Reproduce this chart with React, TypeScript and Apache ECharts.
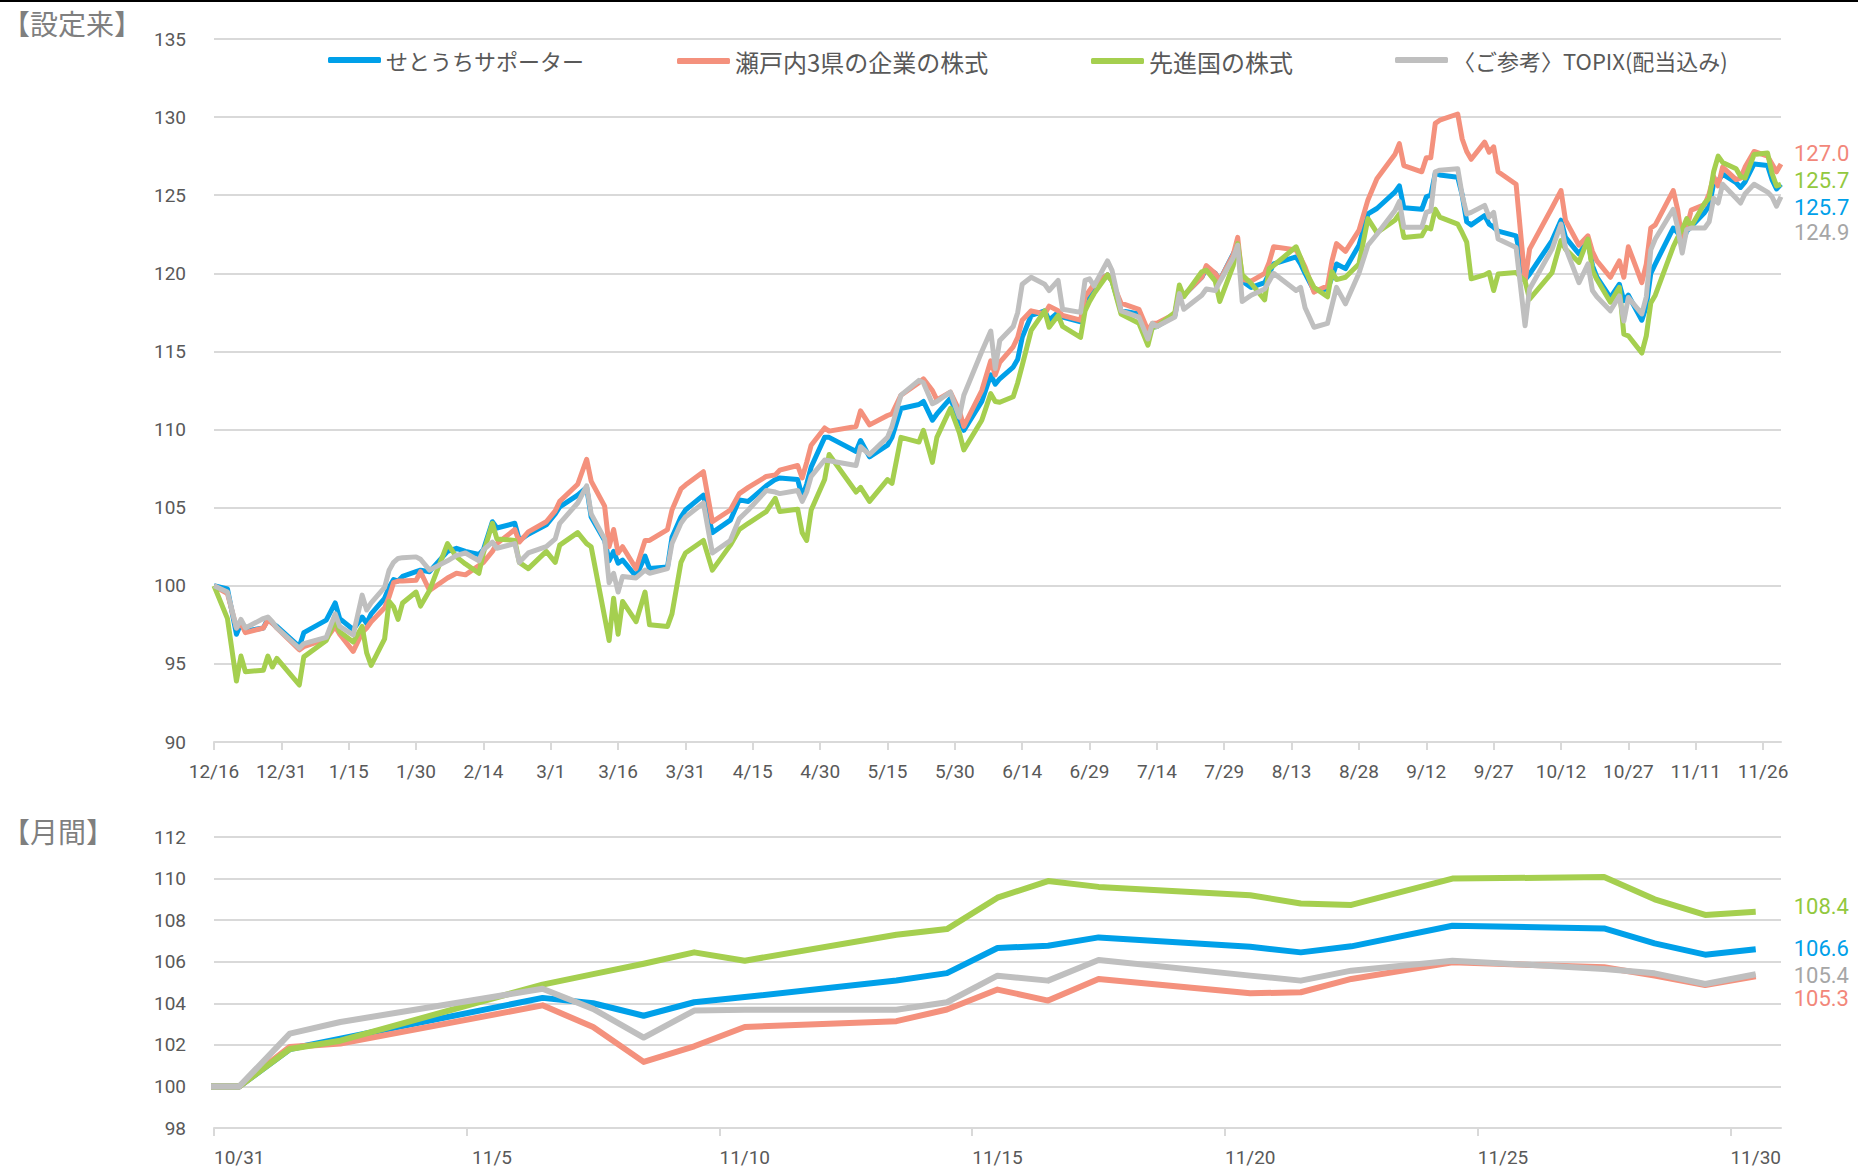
import React, { useEffect, useRef } from 'react';
import * as echarts from 'echarts';

const SERIES_NAMES = ['せとうちサポーター', '瀬戸内3県の企業の株式', '先進国の株式', '〈ご参考〉TOPIX(配当込み)'];
const LINE_COLORS = ['#00A0E9', '#F4917D', '#A5CF4F', '#BFBFBF'];
const LABEL_COLORS = ['#00A0E9', '#F2877A', '#92C83E', '#A6A6A6'];

const SINCE_BASE = '2022-12-16';
const MONTH_BASE = '2023-10-31';

const sinceTickLabels = ['12/16', '12/31', '1/15', '1/30', '2/14', '3/1', '3/16', '3/31', '4/15', '4/30', '5/15', '5/30', '6/14', '6/29', '7/14', '7/29', '8/13', '8/28', '9/12', '9/27', '10/12', '10/27', '11/11', '11/26'];
const monthTickLabels = ['10/31', '11/5', '11/10', '11/15', '11/20', '11/25', '11/30'];

const sinceDates = [
  '2022-12-16', '2022-12-19', '2022-12-21', '2022-12-22', '2022-12-23', '2022-12-27', '2022-12-28', '2022-12-29', '2022-12-30',
  '2023-01-04', '2023-01-05', '2023-01-10', '2023-01-12', '2023-01-13', '2023-01-16', '2023-01-18', '2023-01-19', '2023-01-20',
  '2023-01-23', '2023-01-24', '2023-01-25', '2023-01-26', '2023-01-27', '2023-01-30', '2023-01-31', '2023-02-02', '2023-02-06',
  '2023-02-08', '2023-02-10', '2023-02-13', '2023-02-14', '2023-02-16', '2023-02-17', '2023-02-21', '2023-02-22', '2023-02-24',
  '2023-02-28', '2023-03-02', '2023-03-03', '2023-03-07', '2023-03-09', '2023-03-10', '2023-03-13', '2023-03-14', '2023-03-15',
  '2023-03-16', '2023-03-17', '2023-03-20', '2023-03-22', '2023-03-23', '2023-03-27', '2023-03-28', '2023-03-30', '2023-03-31',
  '2023-04-04', '2023-04-06', '2023-04-10', '2023-04-12', '2023-04-14', '2023-04-18', '2023-04-20', '2023-04-21', '2023-04-25',
  '2023-04-26', '2023-04-27', '2023-04-28', '2023-05-01', '2023-05-02', '2023-05-08', '2023-05-09', '2023-05-11', '2023-05-15',
  '2023-05-16', '2023-05-18', '2023-05-22', '2023-05-23', '2023-05-25', '2023-05-26', '2023-05-29', '2023-05-31', '2023-06-01',
  '2023-06-05', '2023-06-07', '2023-06-08', '2023-06-09', '2023-06-12', '2023-06-13', '2023-06-14', '2023-06-16', '2023-06-19',
  '2023-06-20', '2023-06-22', '2023-06-23', '2023-06-27', '2023-06-28', '2023-06-29', '2023-06-30', '2023-07-03', '2023-07-04',
  '2023-07-06', '2023-07-10', '2023-07-12', '2023-07-13', '2023-07-14', '2023-07-18', '2023-07-19', '2023-07-20', '2023-07-24',
  '2023-07-25', '2023-07-27', '2023-07-28', '2023-07-31', '2023-08-01', '2023-08-02', '2023-08-04', '2023-08-07', '2023-08-08',
  '2023-08-09', '2023-08-14', '2023-08-15', '2023-08-16', '2023-08-18', '2023-08-21', '2023-08-22', '2023-08-23', '2023-08-25',
  '2023-08-28', '2023-08-30', '2023-09-01', '2023-09-05', '2023-09-06', '2023-09-07', '2023-09-11', '2023-09-12', '2023-09-13',
  '2023-09-14', '2023-09-15', '2023-09-19', '2023-09-20', '2023-09-21', '2023-09-22', '2023-09-25', '2023-09-26', '2023-09-27',
  '2023-09-28', '2023-10-02', '2023-10-04', '2023-10-05', '2023-10-10', '2023-10-12', '2023-10-13', '2023-10-16', '2023-10-18',
  '2023-10-19', '2023-10-20', '2023-10-23', '2023-10-25', '2023-10-26', '2023-10-27', '2023-10-30', '2023-10-31', '2023-11-01',
  '2023-11-02', '2023-11-06', '2023-11-07', '2023-11-08', '2023-11-09', '2023-11-10', '2023-11-13', '2023-11-14', '2023-11-15',
  '2023-11-16', '2023-11-17', '2023-11-20', '2023-11-21', '2023-11-22', '2023-11-24', '2023-11-27', '2023-11-28', '2023-11-29',
  '2023-11-30',
];

const sinceFund = [
  100, 99.8, 96.9, 97.6, 97.1, 97.3, 97.9, 97.6, 97.4,
  96.1, 97.0, 97.8, 98.9, 97.9, 97.2, 98.0, 97.6, 98.2,
  99.2, 99.9, 100.4, 100.3, 100.6, 100.9, 101.0, 100.9, 102.2,
  102.4, 102.2, 102.0, 102.3, 104.1, 103.7, 104.0, 102.9, 103.3,
  103.9, 104.6, 105.05, 105.8, 106.3, 104.4, 102.9, 101.6, 102.2,
  101.45, 101.65, 100.6, 101.9, 101.1, 101.2, 103.1, 104.4, 104.85,
  105.8, 103.4, 104.2, 105.5, 105.4, 106.4, 106.8, 106.9, 106.8,
  105.7, 106.5, 107.6, 109.5, 109.5, 108.6, 109.3, 108.25, 109.0,
  109.5, 111.35, 111.6, 111.8, 110.6, 111.0, 112.0, 110.6, 109.95,
  111.8, 113.5, 112.9, 113.25, 114.0, 114.5, 115.9, 117.3, 117.6,
  117.0, 117.5, 117.2, 116.9, 118.3, 118.6, 119.3, 119.9, 119.5,
  117.6, 117.4, 116.0, 116.55, 116.6, 117.3, 118.9, 118.6, 119.75,
  120.3, 120.0, 119.55, 121.25, 121.8, 119.5, 119.1, 119.4, 120.0,
  120.6, 121.05, 120.6, 120.0, 118.9, 119.0, 119.75, 120.6, 120.3,
  121.8, 123.8, 124.15, 125.2, 125.6, 124.2, 124.1, 124.9, 125.0,
  126.4, 126.3, 126.15, 125.0, 123.3, 123.1, 123.7, 123.15, 122.95,
  122.7, 122.4, 119.6, 119.95, 122.1, 123.4, 122.3, 121.25, 122.1,
  120.5, 119.75, 118.45, 119.3, 118.25, 118.6, 117.0, 117.9, 120.0,
  120.6, 122.9, 122.6, 121.9, 122.7, 123.0, 123.9, 124.3, 125.75,
  125.9, 126.35, 125.8, 125.5, 125.85, 127.0, 126.9, 126.0, 125.4,
  125.7,
];

const sinceSetouchi = [
  100, 99.5, 97.3, 97.6, 97.0, 97.3, 97.8, 97.6, 97.3,
  95.9, 96.1, 96.6, 97.4, 96.9, 95.8, 97.0, 97.3, 97.7,
  98.6, 99.3, 100.2, 100.3, 100.3, 100.35, 100.9, 99.7, 100.5,
  100.8, 100.7, 101.3, 101.5, 102.2, 102.7, 103.6, 102.8, 103.45,
  104.1, 104.8, 105.4, 106.5, 108.1, 106.7, 105.1, 102.5, 103.6,
  102.1, 102.5, 101.1, 102.9, 102.9, 103.6, 104.85, 106.2, 106.45,
  107.3, 104.1, 104.85, 105.9, 106.3, 107.0, 107.1, 107.4, 107.7,
  106.9, 107.9, 109.0, 110.1, 109.9, 110.2, 111.2, 110.3, 110.9,
  111.0, 112.2, 113.0, 113.25, 112.5, 111.9, 112.4, 111.2, 110.2,
  112.5, 114.4, 113.5, 114.3, 115.3, 115.9, 117.0, 117.6, 117.4,
  117.9, 117.6, 117.3, 117.0, 118.5, 118.9, 119.3, 119.9, 119.5,
  118.1, 117.7, 116.35, 116.8, 116.8, 117.4, 118.8, 118.6, 119.75,
  120.5, 120.0, 119.55, 121.2, 122.3, 119.6, 119.5, 120.0, 120.7,
  121.7, 121.5, 121.0, 120.4, 118.8, 119.2, 120.8, 121.9, 121.4,
  122.75, 124.7, 126.05, 127.6, 128.3, 126.9, 126.5, 127.4, 127.4,
  129.6, 129.8, 130.2, 128.6, 127.8, 127.3, 128.4, 127.75, 128.1,
  126.5, 125.7, 119.5, 121.55, 124.2, 125.3, 123.4, 121.8, 122.4,
  121.4, 120.8, 119.75, 120.8, 119.75, 121.7, 119.4, 120.6, 122.9,
  123.1, 125.3, 124.05, 122.0, 122.9, 124.05, 124.4, 125.1, 126.2,
  125.6, 126.8, 126.0, 126.1, 126.8, 127.8, 127.5, 127.0, 126.5,
  127.0,
];

const sinceDeveloped = [
  100, 97.9, 93.9, 95.5, 94.5, 94.6, 95.5, 94.8, 95.35,
  93.65, 95.45, 96.5, 97.8, 97.05, 96.4, 97.4, 95.7, 94.9,
  96.6, 99.0, 98.65, 97.85, 98.9, 99.6, 98.7, 99.7, 102.7,
  101.85, 101.4, 100.8, 102.1, 104.0, 103.0, 102.9, 101.5, 101.1,
  102.2, 101.5, 102.6, 103.4, 102.7, 102.5, 98.0, 96.5, 99.2,
  96.9, 99.0, 97.7, 99.6, 97.5, 97.4, 98.2, 101.5, 102.1,
  102.9, 101.0, 102.6, 103.6, 104.0, 104.75, 105.6, 104.75, 104.9,
  103.4, 102.9, 104.85, 106.8, 108.4, 106.0, 106.3, 105.4, 106.8,
  106.55, 109.5, 109.2, 109.95, 107.9, 109.5, 111.35, 109.8, 108.7,
  110.6, 112.3, 111.8, 111.75, 112.1, 113.0, 114.1, 116.35, 117.6,
  116.55, 117.3, 116.6, 115.9, 117.6, 118.2, 118.7, 119.9, 119.5,
  117.4, 116.8, 115.4, 116.55, 116.6, 117.5, 119.25, 118.5, 120.1,
  120.2, 119.5, 118.2, 120.5, 121.9, 119.9, 119.35, 118.3, 120.3,
  120.5, 121.7, 121.0, 120.2, 119.1, 118.5, 120.1, 119.6, 119.75,
  120.6, 123.5, 122.6, 123.4, 123.8, 122.3, 122.4, 122.95, 122.85,
  124.1, 123.6, 123.15, 122.6, 122.0, 119.65, 119.9, 120.05, 118.9,
  119.95, 120.05, 119.5, 118.35, 120.05, 122.1, 121.55, 120.7, 122.2,
  120.2, 119.6, 118.15, 119.1, 116.1, 116.0, 114.9, 116.0, 118.1,
  118.6, 121.7, 122.3, 122.8, 123.5, 123.0, 124.5, 124.8, 126.5,
  127.5, 127.1, 126.7, 126.2, 126.1, 127.6, 127.7, 126.4, 125.6,
  125.7,
];

const sinceTopix = [
  100, 99.6, 97.3, 97.85, 97.3, 97.9, 98.0, 97.7, 97.3,
  96.0, 96.3, 96.7, 98.2, 97.4, 96.85, 99.4, 98.45, 98.9,
  99.9, 101.0, 101.5, 101.75, 101.8, 101.85, 101.7, 101.0, 101.6,
  101.95, 102.1, 101.6, 102.3, 102.8, 102.4, 102.7, 101.5, 102.1,
  102.5, 103.0, 104.0, 105.3, 106.4, 104.6, 103.0, 100.2, 100.8,
  99.6, 100.6, 100.5, 101.0, 100.8, 101.1, 102.7, 104.0, 104.4,
  105.3, 102.1, 102.9, 104.3, 104.85, 106.1, 106.0, 105.9, 106.1,
  105.4, 106.0, 107.0, 108.05, 108.0, 107.7, 108.9, 108.4, 109.5,
  110.2, 112.2, 113.15, 113.0, 111.65, 111.8, 112.4, 110.8, 112.2,
  115.0, 116.3, 113.9, 115.7, 116.6, 117.5, 119.3, 119.75, 119.3,
  118.9, 119.55, 117.7, 117.5, 119.55, 119.65, 119.2, 120.8, 120.2,
  117.6, 117.2, 115.8, 116.8, 116.6, 117.2, 118.7, 117.7, 118.6,
  119.0, 118.9, 119.45, 121.0, 121.8, 118.2, 118.6, 119.0, 119.5,
  120.0, 118.9, 119.1, 117.8, 116.55, 116.8, 117.95, 119.1, 118.05,
  120.0, 121.8, 122.5, 124.0, 124.6, 122.95, 122.95, 123.9, 124.0,
  126.5, 126.6, 126.7, 125.0, 123.8, 123.9, 124.35, 123.6, 123.9,
  122.2, 121.65, 116.65, 119.0, 121.55, 123.15, 121.65, 119.4, 120.6,
  118.9, 118.5, 117.6, 118.55, 116.95, 118.45, 117.4, 118.5, 121.5,
  122.2, 124.1, 122.9, 121.3, 122.8, 122.9, 122.9, 123.3, 124.8,
  124.5, 125.7, 124.8, 124.5, 125.1, 125.7, 125.2, 124.9, 124.3,
  124.9,
];

const monthDates = [
  '2023-10-30', '2023-10-31', '2023-11-01', '2023-11-02', '2023-11-06', '2023-11-07', '2023-11-08', '2023-11-09',
  '2023-11-10', '2023-11-13', '2023-11-14', '2023-11-15', '2023-11-16', '2023-11-17', '2023-11-20', '2023-11-21',
  '2023-11-22', '2023-11-24', '2023-11-27', '2023-11-28', '2023-11-29', '2023-11-30',
];
const monthFund = [100, 100, 101.8, 102.3, 104.26, 104.0, 103.4, 104.05, 104.3, 105.1, 105.45, 106.66, 106.77, 107.17, 106.72, 106.45, 106.74, 107.73, 107.6, 106.88, 106.34, 106.6];
const monthSetouchi = [100, 100, 101.9, 102.06, 103.9, 102.86, 101.18, 101.93, 102.86, 103.14, 103.7, 104.66, 104.13, 105.17, 104.48, 104.53, 105.17, 105.97, 105.73, 105.33, 104.88, 105.3];
const monthDeveloped = [100, 100, 101.8, 102.2, 104.9, 105.4, 105.9, 106.45, 106.05, 107.3, 107.57, 109.08, 109.88, 109.6, 109.2, 108.8, 108.73, 110.0, 110.07, 109.0, 108.25, 108.4];
const monthTopix = [100, 100, 102.54, 103.1, 104.7, 103.73, 102.35, 103.65, 103.69, 103.69, 104.05, 105.33, 105.09, 106.08, 105.33, 105.09, 105.57, 106.05, 105.65, 105.44, 104.93, 105.4];

const DAY_MS = 86400000;
const dayOffset = (d: string, base: string) => Math.round((Date.parse(d) - Date.parse(base)) / DAY_MS);

const NUM_FONT = 'Roboto, "Noto Sans CJK JP", sans-serif';
const CJK_FONT = '"Noto Sans CJK JP", "Noto Sans", sans-serif';
const TEXT_GRAY = '#595959';
const GRID_GRAY = '#D9D9D9';

export default function App() {
  const ref = useRef<HTMLDivElement>(null);

  useEffect(() => {
    document.body.style.margin = '0';
    if (!ref.current) return;
    const chart = echarts.init(ref.current, undefined, { renderer: 'svg' });

    const sinceX = sinceDates.map((d) => dayOffset(d, SINCE_BASE));
    const sinceMax = dayOffset('2023-11-30', SINCE_BASE);
    const monthX = monthDates.map((d) => dayOffset(d, MONTH_BASE) + 0.5);

    const sinceSets = [sinceFund, sinceSetouchi, sinceDeveloped, sinceTopix];
    const monthSets = [monthFund, monthSetouchi, monthDeveloped, monthTopix];
    const sinceLabelDy = [23, -10, -3.5, 36];
    const monthLabelDy = [-1, 22, -5, 1.5];

    const sinceTickValues = sinceTickLabels.map((_, i) => i * 15);
    const monthTickValues = monthTickLabels.map((_, i) => i * 5);
    const monthLabelValues = monthTickLabels.map((_, i) => i * 5 + 0.5);

    const legendLefts = [323, 672, 1086, 1390];
    const legendFontSizes = [22, 24, 24, 22];

    const endLabel = (color: string, dy: number, distance: number) => ({
      show: true,
      formatter: (p: any) => Number(p.value[1]).toFixed(1),
      color,
      fontSize: 22,
      fontFamily: NUM_FONT,
      distance,
      offset: [0, dy],
    });

    const series: any[] = [];
    sinceSets.forEach((vals, k) => {
      series.push({
        name: SERIES_NAMES[k],
        type: 'line',
        xAxisIndex: 0,
        yAxisIndex: 0,
        symbol: 'none',
        data: vals.map((v, i) => [sinceX[i], v]),
        lineStyle: { color: LINE_COLORS[k], width: 5, join: 'round' },
        itemStyle: { color: LINE_COLORS[k] },
        endLabel: endLabel(LABEL_COLORS[k], sinceLabelDy[k], 13),
        z: 2 + k,
      });
    });
    monthSets.forEach((vals, k) => {
      series.push({
        name: SERIES_NAMES[k],
        type: 'line',
        xAxisIndex: 1,
        yAxisIndex: 1,
        symbol: 'none',
        data: vals.map((v, i) => [monthX[i], v]),
        lineStyle: { color: LINE_COLORS[k], width: 6, join: 'round' },
        itemStyle: { color: LINE_COLORS[k] },
        endLabel: endLabel(LABEL_COLORS[k], monthLabelDy[k], 38),
        z: 2 + k,
      });
    });

    const axisLineStyle = { show: true, lineStyle: { color: GRID_GRAY, width: 2 } };

    chart.setOption({
      animation: false,
      backgroundColor: '#FFFFFF',
      title: [
        { text: '【設定来】', left: -3, top: 4, textStyle: { fontFamily: CJK_FONT, fontSize: 28, fontWeight: 'normal', color: '#7F7F7F' } },
        { text: '【月間】', left: -3, top: 812, textStyle: { fontFamily: CJK_FONT, fontSize: 28, fontWeight: 'normal', color: '#7F7F7F' } },
      ],
      legend: SERIES_NAMES.map((name, k) => ({
        data: [name],
        left: legendLefts[k],
        top: 44,
        icon: 'roundRect',
        itemWidth: 53,
        itemHeight: 6,
        selectedMode: false,
        textStyle: { fontFamily: CJK_FONT, fontSize: legendFontSizes[k], color: TEXT_GRAY },
      })),
      graphic: [
        { type: 'line', shape: { x1: 0, y1: 1, x2: 1858, y2: 1 }, style: { stroke: '#000000', lineWidth: 2 } },
      ],
      grid: [
        { left: 214, right: 77, top: 39, bottom: 427, containLabel: false },
        { left: 214, right: 77, top: 837, bottom: 41, containLabel: false },
      ],
      xAxis: [
        {
          type: 'value',
          gridIndex: 0,
          min: 0,
          max: sinceMax,
          axisLine: axisLineStyle,
          axisTick: { show: true, length: 8, customValues: sinceTickValues, lineStyle: { color: GRID_GRAY, width: 2 } },
          axisLabel: {
            show: true,
            customValues: sinceTickValues,
            margin: 20,
            fontSize: 19,
            fontFamily: NUM_FONT,
            color: TEXT_GRAY,
            formatter: (v: number) => sinceTickLabels[Math.round(v / 15)] ?? '',
          },
          splitLine: { show: false },
        },
        {
          type: 'value',
          gridIndex: 1,
          min: 0,
          max: 31,
          axisLine: axisLineStyle,
          axisTick: { show: true, length: 8, customValues: monthTickValues, lineStyle: { color: GRID_GRAY, width: 2 } },
          axisLabel: {
            show: true,
            customValues: monthLabelValues,
            margin: 20,
            fontSize: 19,
            fontFamily: NUM_FONT,
            color: TEXT_GRAY,
            formatter: (v: number) => monthTickLabels[Math.round((v - 0.5) / 5)] ?? '',
          },
          splitLine: { show: false },
        },
      ],
      yAxis: [
        {
          type: 'value',
          gridIndex: 0,
          min: 90,
          max: 135,
          interval: 5,
          axisLine: { show: false },
          axisTick: { show: false },
          axisLabel: { margin: 28, fontSize: 19, fontFamily: NUM_FONT, color: TEXT_GRAY },
          splitLine: { show: true, lineStyle: { color: GRID_GRAY, width: 2 } },
        },
        {
          type: 'value',
          gridIndex: 1,
          min: 98,
          max: 112,
          interval: 2,
          axisLine: { show: false },
          axisTick: { show: false },
          axisLabel: { margin: 28, fontSize: 19, fontFamily: NUM_FONT, color: TEXT_GRAY },
          splitLine: { show: true, lineStyle: { color: GRID_GRAY, width: 2 } },
        },
      ],
      series,
    });

    return () => chart.dispose();
  }, []);

  return <div ref={ref} style={{ width: 1858, height: 1169 }} />;
}
